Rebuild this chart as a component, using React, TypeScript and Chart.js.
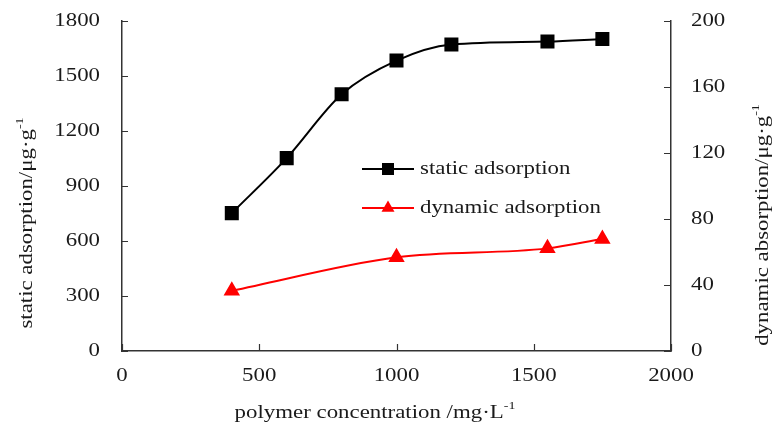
import React, { useEffect, useRef } from "react";
import { Chart, registerables } from "chart.js";

Chart.register(...registerables);

const concentrationStatic = [400, 600, 800, 1000, 1200, 1550, 1750];
const staticAdsorption = [752, 1052, 1400, 1584, 1672, 1688, 1702];
const concentrationDynamic = [400, 1000, 1550, 1750];
const dynamicAdsorption = [36.5, 56.8, 62.2, 67.9];

const xTicks = [0, 500, 1000, 1500, 2000];
const leftTicks = [0, 300, 600, 900, 1200, 1500, 1800];
const rightTicks = [0, 40, 80, 120, 160, 200];

const seriesNames = ["static adsorption", "dynamic adsorption"];
const xTitle = ["polymer concentration /mg·L", "-1"];
const leftTitle = ["static adsorption/μg·g", "-1"];
const rightTitle = ["dynamic absorption/μg·g", "-1"];

const FONT = "'Liberation Serif', 'Times New Roman', serif";
const TXT = "#1a1a1a";
const STRETCH = 1.27;

function drawStretched(
  ctx: CanvasRenderingContext2D,
  text: string,
  x: number,
  y: number,
  align: "left" | "right" | "center",
  size: number
) {
  ctx.save();
  ctx.font = `${size}px ${FONT}`;
  ctx.fillStyle = TXT;
  ctx.textBaseline = "middle";
  ctx.textAlign = align;
  ctx.translate(x, y);
  ctx.scale(STRETCH, 1);
  ctx.fillText(text, 0, 0);
  ctx.restore();
}

function drawSupText(ctx: CanvasRenderingContext2D, parts: string[], cx: number, cy: number, rot: number, size: number) {
  ctx.save();
  ctx.translate(cx, cy);
  ctx.rotate(rot);
  ctx.scale(STRETCH, 1);
  ctx.fillStyle = TXT;
  ctx.textBaseline = "middle";
  ctx.textAlign = "left";
  const mainFont = `${size}px ${FONT}`;
  const supFont = `${Math.round(size * 0.62)}px ${FONT}`;
  ctx.font = mainFont;
  const w1 = ctx.measureText(parts[0]).width;
  ctx.font = supFont;
  const w2 = ctx.measureText(parts[1]).width;
  const x0 = -(w1 + w2) / 2;
  ctx.font = mainFont;
  ctx.fillText(parts[0], x0, 0);
  ctx.font = supFont;
  ctx.fillText(parts[1], x0 + w1, -size * 0.38);
  ctx.restore();
}

const decorPlugin = {
  id: "decor",
  afterDraw(chart: any) {
    const ctx: CanvasRenderingContext2D = chart.ctx;
    const { x, y, y1 } = chart.scales;
    const area = chart.chartArea;
    ctx.save();
    ctx.strokeStyle = "#333";
    ctx.lineWidth = 1.2;
    ctx.beginPath();
    xTicks.forEach((v) => {
      const px = Math.round(x.getPixelForValue(v)) + 0.5;
      ctx.moveTo(px, area.bottom);
      ctx.lineTo(px, area.bottom - 7);
    });
    leftTicks.forEach((v) => {
      const py = Math.round(y.getPixelForValue(v)) + 0.5;
      ctx.moveTo(area.left, py);
      ctx.lineTo(area.left + 6, py);
    });
    rightTicks.forEach((v) => {
      const py = Math.round(y1.getPixelForValue(v)) + 0.5;
      ctx.moveTo(area.right, py);
      ctx.lineTo(area.right - 7, py);
    });
    ctx.stroke();
    ctx.restore();

    xTicks.forEach((v) => drawStretched(ctx, String(v), x.getPixelForValue(v), area.bottom + 25, "center", 18));
    leftTicks.forEach((v) => drawStretched(ctx, String(v), area.left - 22, y.getPixelForValue(v), "right", 18));
    rightTicks.forEach((v) => drawStretched(ctx, String(v), area.right + 20, y1.getPixelForValue(v), "left", 18));

    drawSupText(ctx, xTitle, 375, 413, 0, 18);
    drawSupText(ctx, leftTitle, 27, 223, -Math.PI / 2, 18);
    drawSupText(ctx, rightTitle, 763, 225, -Math.PI / 2, 18);

    // legend
    const ds = chart.data.datasets;
    const rows = [169, 208];
    ds.forEach((d: any, i: number) => {
      const yy = rows[i];
      ctx.save();
      ctx.strokeStyle = d.borderColor;
      ctx.lineWidth = 2;
      ctx.beginPath();
      ctx.moveTo(362, yy);
      ctx.lineTo(414, yy);
      ctx.stroke();
      ctx.fillStyle = d.pointBackgroundColor;
      if (d.pointStyle === "rect") {
        ctx.fillRect(388 - 6, yy - 6, 12, 12);
      } else {
        const r = 7.5;
        ctx.beginPath();
        ctx.moveTo(388, yy - r);
        ctx.lineTo(388 + r * 0.866, yy + r * 0.5);
        ctx.lineTo(388 - r * 0.866, yy + r * 0.5);
        ctx.closePath();
        ctx.fill();
      }
      ctx.restore();
      drawStretched(ctx, seriesNames[i], 420, yy, "left", 18);
    });
  },
};

export default function App() {
  const ref = useRef<HTMLCanvasElement>(null);
  useEffect(() => {
    if (!ref.current) return;
    const chart = new Chart(ref.current, {
      type: "line",
      data: {
        datasets: [
          {
            label: seriesNames[0],
            data: concentrationStatic.map((c, i) => ({ x: c, y: staticAdsorption[i] })),
            borderColor: "#000",
            backgroundColor: "#000",
            pointBackgroundColor: "#000",
            pointBorderColor: "#000",
            pointStyle: "rect",
            pointRadius: 8.5,
            borderWidth: 2,
            tension: 0.4,
            cubicInterpolationMode: "monotone",
            yAxisID: "y",
          },
          {
            label: seriesNames[1],
            data: concentrationDynamic.map((c, i) => ({ x: c, y: dynamicAdsorption[i] })),
            borderColor: "#ff0000",
            backgroundColor: "#ff0000",
            pointBackgroundColor: "#ff0000",
            pointBorderColor: "#ff0000",
            pointStyle: "triangle",
            pointRadius: 7.5,
            borderWidth: 2,
            tension: 0.4,
            cubicInterpolationMode: "monotone",
            yAxisID: "y1",
          },
        ] as any,
      },
      options: {
        animation: false,
        responsive: false,
        maintainAspectRatio: false,
        layout: { padding: { top: 21, left: 0, right: 0, bottom: 0 } },
        plugins: { legend: { display: false }, tooltip: { enabled: false } },
        scales: {
          x: {
            type: "linear",
            min: 0,
            max: 2000,
            afterBuildTicks: (s: any) => {
              s.ticks = xTicks.map((v) => ({ value: v }));
            },
            afterFit: (s: any) => {
              s.height = 74;
            },
            grid: { display: false, drawTicks: false },
            border: { display: true, color: "#333", width: 1.5 },
            ticks: { display: false },
          },
          y: {
            type: "linear",
            position: "left",
            min: 0,
            max: 1800,
            afterBuildTicks: (s: any) => {
              s.ticks = leftTicks.map((v) => ({ value: v }));
            },
            afterFit: (s: any) => {
              s.width = 122;
            },
            grid: { display: false, drawTicks: false },
            border: { display: true, color: "#333", width: 1.5 },
            ticks: { display: false },
          },
          y1: {
            type: "linear",
            position: "right",
            min: 0,
            max: 200,
            afterBuildTicks: (s: any) => {
              s.ticks = rightTicks.map((v) => ({ value: v }));
            },
            afterFit: (s: any) => {
              s.width = 106;
            },
            grid: { display: false, drawTicks: false },
            border: { display: true, color: "#333", width: 1.5 },
            ticks: { display: false },
          },
        },
      } as any,
      plugins: [decorPlugin],
    });
    return () => chart.destroy();
  }, []);
  return (
    <div style={{ position: "fixed", left: 0, top: 0, width: 777, height: 425, background: "#fff" }}>
      <canvas ref={ref} width={777} height={425} style={{ width: 777, height: 425 }} />
    </div>
  );
}
